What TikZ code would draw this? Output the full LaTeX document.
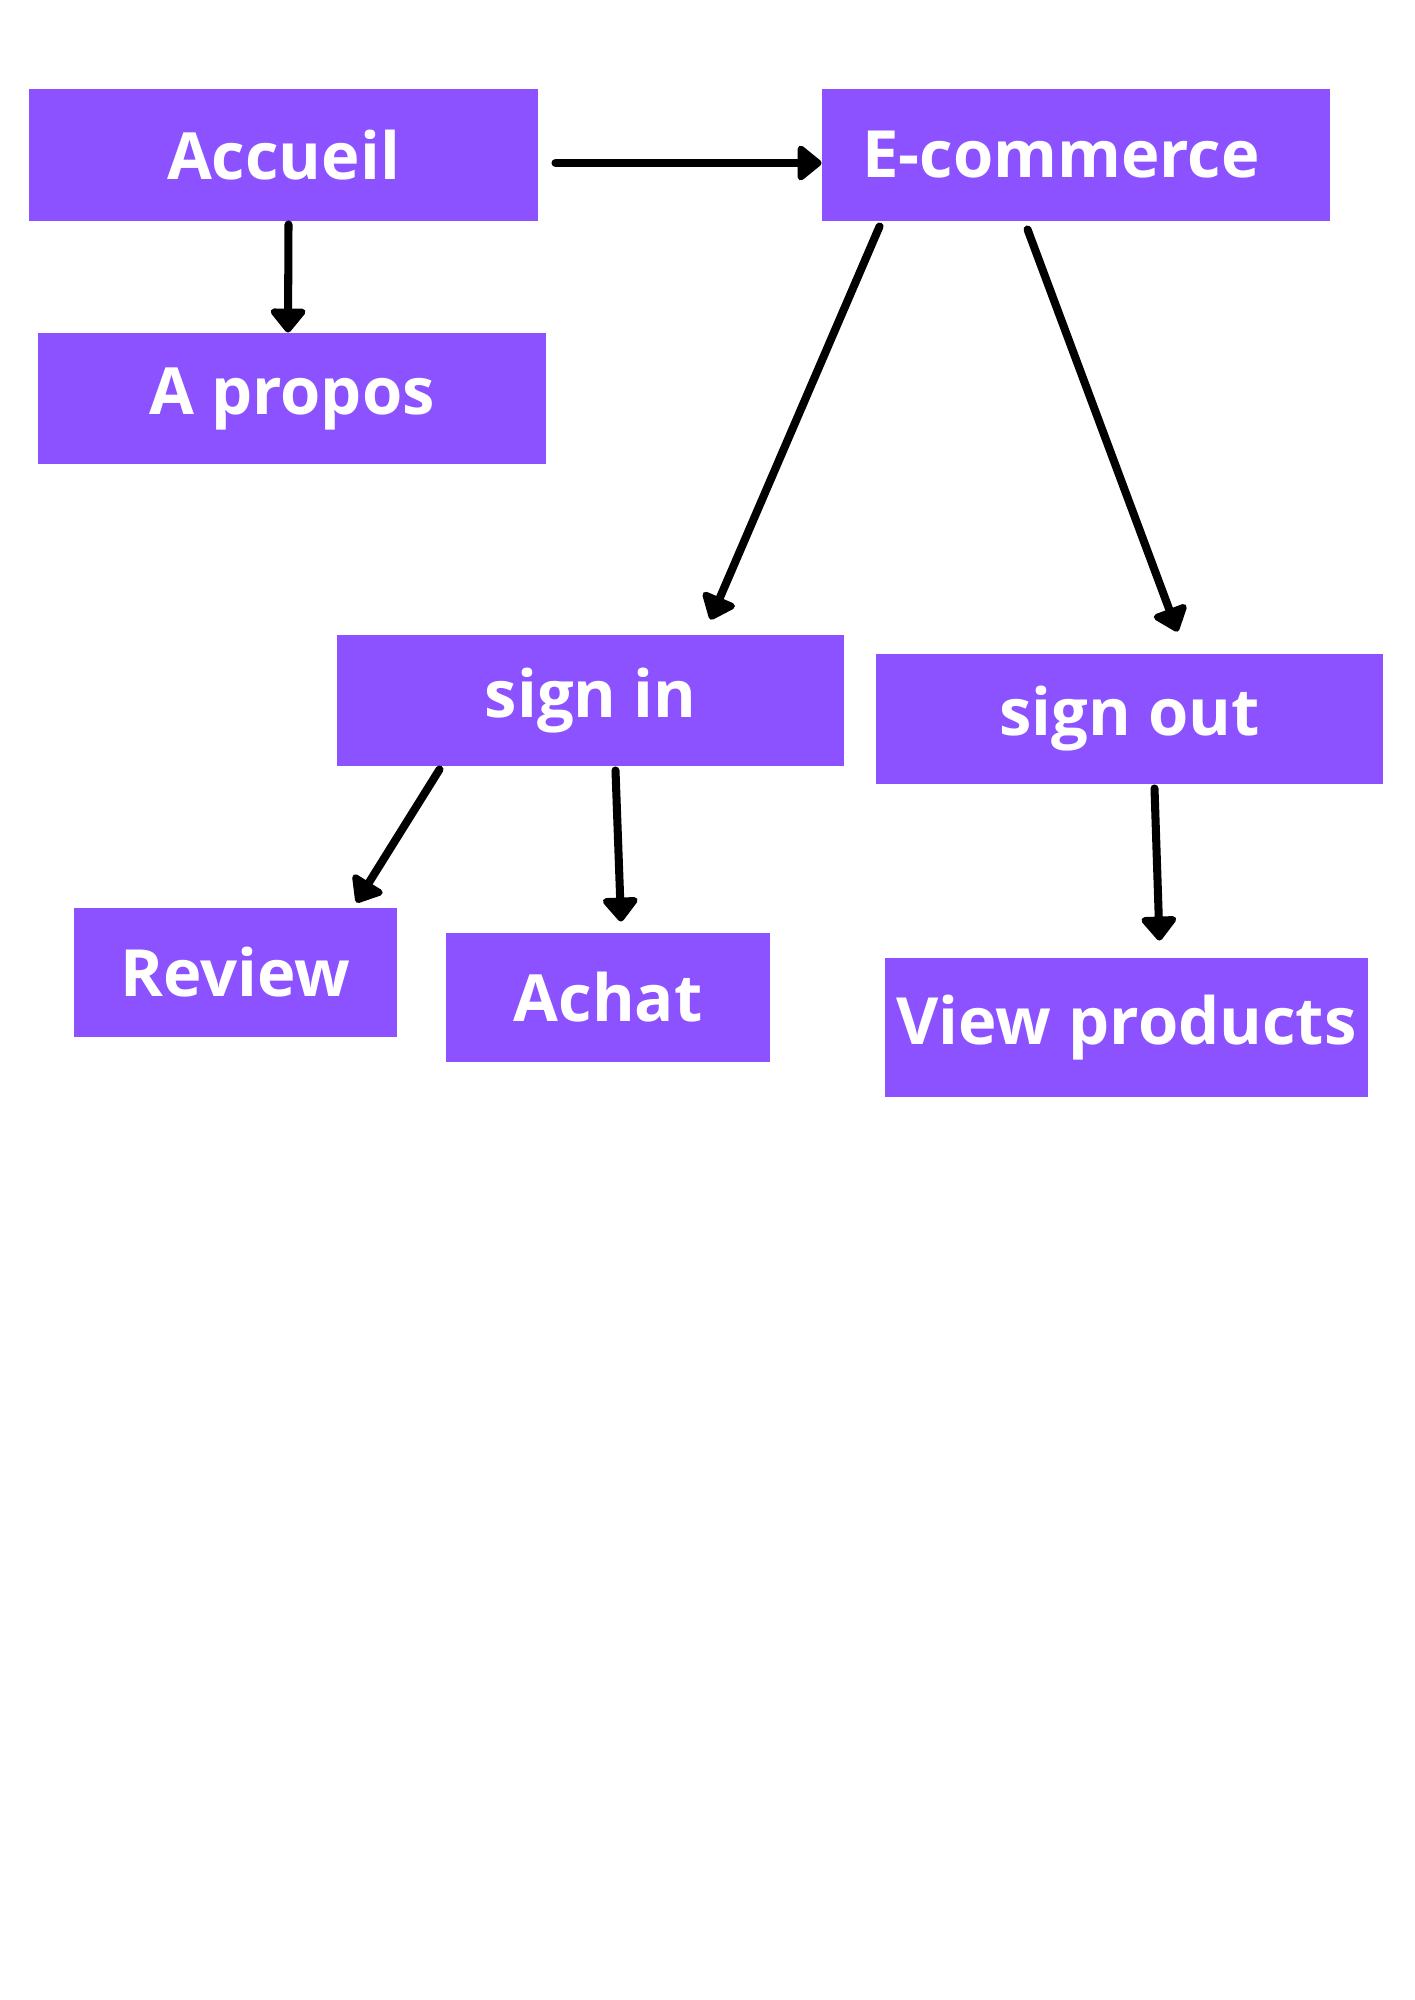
\documentclass[tikz,border=0pt]{standalone}
\usepackage{fontspec}
\newfontfamily\boxfont{Open Sans}
\usetikzlibrary{calc, arrows.meta}
\definecolor{boxpurple}{RGB}{140,82,255}
\newdimen\pxu \pxu=0.01485cm

\begin{document}
\begin{tikzpicture}[x=0.01485cm, y=-0.01485cm,
    pagebox/.style={fill=boxpurple, text=white, inner sep=0pt,
      font=\boxfont\bfseries\fontsize{27.5}{32}\selectfont},
    link/.style={line width=3.4pt, line cap=round,
      -{Triangle[round, length=11pt, width=17pt]}}]
  \useasboundingbox (0,0) rectangle (1414,2000);

  % top level
  \node[pagebox, minimum width=509\pxu, minimum height=132\pxu] (accueil) at (283.5,155) {Accueil};
  \node[pagebox, minimum width=508\pxu, minimum height=132\pxu] (ecommerce) at (1076,155) {\hspace*{-30\pxu}E-commerce};
  \node[pagebox, minimum width=508\pxu, minimum height=131\pxu] (apropos) at (292,398.5) {A propos};

  % second level
  \node[pagebox, minimum width=507\pxu, minimum height=131\pxu] (signin) at (590.5,700.5) {sign in};
  \node[pagebox, minimum width=507\pxu, minimum height=130\pxu] (signout) at (1129.5,719) {sign out};

  % leaves
  \node[pagebox, minimum width=323\pxu, minimum height=129\pxu] (review) at (235.5,972.5) {Review};
  \node[pagebox, minimum width=324\pxu, minimum height=129\pxu] (achat) at (608,997.5) {Achat};
  \node[pagebox, minimum width=483\pxu, minimum height=139\pxu] (viewprod) at (1126.5,1027.5) {View products};

  % connectors
  \draw[link] ($(accueil.east)+(17,8)$) -- ($(ecommerce.west)+(0,8)$);
  \draw[link] ($(accueil.south)+(5,3)$) -- ($(apropos.north)+(-4,0)$);
  \draw[link] ($(ecommerce.south west)+(58,5)$) -- ($(signin.north)+(120,-15)$);
  \draw[link] ($(ecommerce.south west)+(206,8)$) -- ($(signout.north)+(48,-22)$);
  \draw[link] ($(signin.south)+(-151,3)$) -- ($(review.north)+(121,-5)$);
  \draw[link] ($(signin.south)+(25,4)$) -- ($(achat.north)+(13,-11)$);
  \draw[link] ($(signout.south)+(25,4)$) -- ($(viewprod.north)+(33,-17)$);
\end{tikzpicture}
\end{document}
